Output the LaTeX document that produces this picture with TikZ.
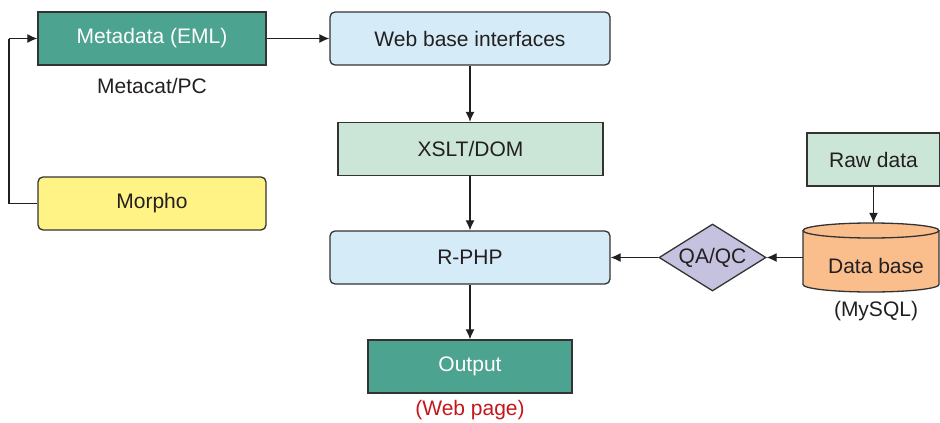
\documentclass[tikz,border=0pt]{standalone}
\usepackage{fontspec}
\setmainfont{Liberation Sans}
\usetikzlibrary{shapes.geometric,arrows.meta}
\definecolor{teal}{HTML}{4CA38F}
\definecolor{skyfill}{HTML}{D5EBF8}
\definecolor{mintfill}{HTML}{CBE6D7}
\definecolor{lemon}{HTML}{FFF385}
\definecolor{lavender}{HTML}{C5C2E0}
\definecolor{peach}{HTML}{F9BE8C}
\definecolor{ink}{HTML}{231F20}
\definecolor{linegray}{HTML}{333333}
\definecolor{webred}{HTML}{C4161C}
\tikzset{
  box/.style={draw=linegray, line width=1.3pt, minimum width=#1, minimum height=53pt,
    inner sep=0pt, text=ink, font=\fontsize{21}{24}\selectfont},
  box/.default=228pt,
  roundbox/.style={box=#1, rounded corners=5pt},
  roundbox/.default=280pt,
  caption/.style={text=ink, font=\fontsize{21}{24}\selectfont, inner sep=0pt},
  conn/.style={draw=ink, line width=1.2pt, -{Latex[length=10pt,width=9pt]}},
  plainline/.style={draw=ink, line width=1.2pt},
  dbline/.style={draw=linegray, line width=1.3pt}
}
\begin{document}
\begin{tikzpicture}[x=1pt,y=-1pt]
\useasboundingbox (0,0) rectangle (940,423);

% left column
\node[box, fill=teal, text=white] (meta) at (152,38.5) {Metadata (EML)};
\node[caption] (metacat) at (152,86) {Metacat/PC};
\node[roundbox=228pt, fill=lemon] (morpho) at (152,203.5) {Morpho};

% central column
\node[roundbox, fill=skyfill] (web) at (470,38.5) {Web base interfaces};
\node[box=265pt, fill=mintfill] (xslt) at (470.5,149) {XSLT/DOM};
\node[roundbox, fill=skyfill] (rphp) at (470,257.5) {R-PHP};
\node[box=204pt, fill=teal, text=white] (out) at (470,366.5) {Output};
\node[caption, text=webred] (webpage) at (470,410) {(Web page)};

% right column
\node[box=133pt, fill=mintfill] (raw) at (873.5,159.5) {Raw data};
\node[diamond, draw=linegray, line width=1.3pt, fill=lavender, aspect=1.6,
      minimum width=107pt, minimum height=67pt, inner sep=0pt, text=ink,
      font=\fontsize{21}{24}\selectfont] (qa) at (712.5,257.5) {QA/QC};

% database cylinder: body, bottom rim, then top lid
\node[minimum width=136pt, minimum height=69pt, inner sep=0pt] (db) at (871,257.5) {};
\fill[peach] (871,284.5) ellipse[x radius=68, y radius=7.5];
\fill[peach] (803,230.5) rectangle (939,284.5);
\draw[dbline] (803,230.5) -- (803,284.5)
  arc[start angle=180, end angle=0, x radius=68, y radius=7.5] -- (939,230.5);
\draw[dbline, fill=peach] (871,230.5) ellipse[x radius=68, y radius=7.5];
\node[caption] (dbtext) at (876,266) {Data base};
\node[caption] (mysql) at (876,311) {(MySQL)};

% connectors
\draw[conn] (meta.east) -- (web.west);
\draw[conn] (web.south) -- (xslt.north -| web.south);
\draw[conn] (xslt.south -| rphp.north) -- (rphp.north);
\draw[conn] (rphp.south) -- (out.north);
\draw[conn] (raw.south) -- (raw.south |- db.north);
\draw[conn] (db.west) -- (qa.east);
\draw[conn] (qa.west) -- (rphp.east);
\coordinate (bendlow) at (9,203.5);
\coordinate (bendhigh) at (9,38.5);
\draw[plainline] (morpho.west) -- (bendlow) -- (bendhigh);
\draw[conn] (bendhigh) -- (meta.west);
\end{tikzpicture}
\end{document}
